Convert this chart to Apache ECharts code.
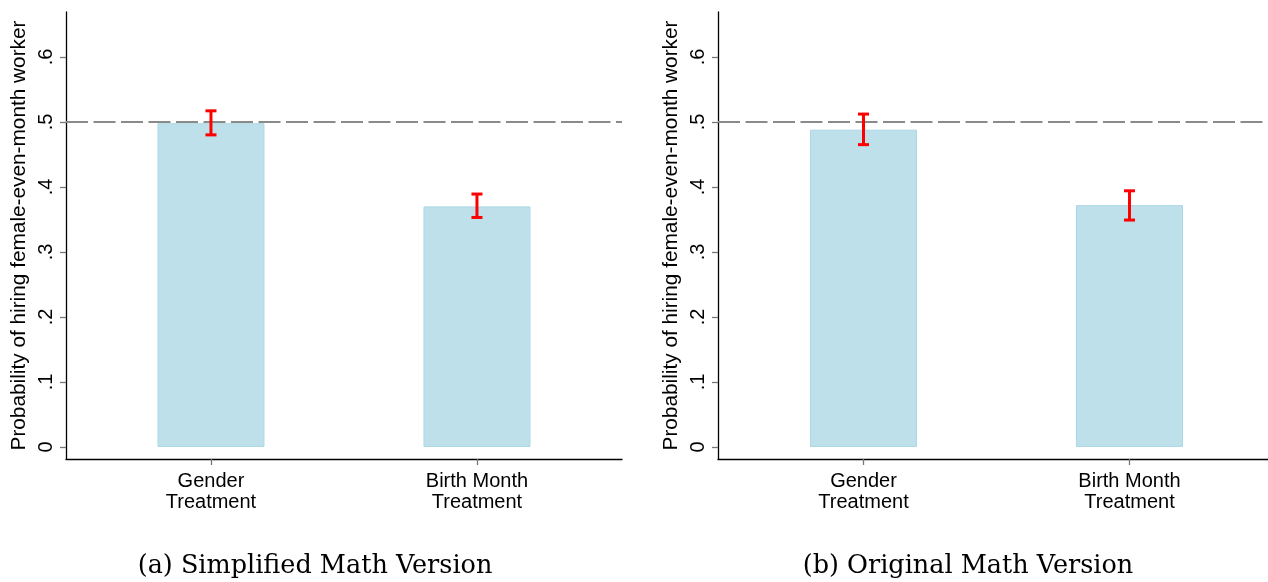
<!DOCTYPE html>
<html>
<head>
<meta charset="utf-8">
<script src="https://cdn.jsdelivr.net/npm/echarts@6/dist/echarts.min.js"></script>
<style>
html,body{margin:0;padding:0;background:#fff;}
#chart{width:1268px;height:582px;}
</style>
</head>
<body>
<div id="chart"></div>
<script>
// ---- data ----
const categories = ['Gender\nTreatment', 'Birth Month\nTreatment'];
const categoryPos = [1, 2];
const simplifiedMean = [0.498, 0.370];
const simplifiedLow = [0.480, 0.353];
const simplifiedHigh = [0.517, 0.389];
const originalMean = [0.488, 0.372];
const originalLow = [0.465, 0.349];
const originalHigh = [0.512, 0.394];
const yTicks = [0, 0.1, 0.2, 0.3, 0.4, 0.5, 0.6];
const referenceLine = 0.5;
const captions = ['(a) Simplified Math Version', '(b) Original Math Version'];
const yTitle = 'Probability of hiring female-even-month worker';

// ---- chart ----
const sans = '"Liberation Sans", Arial, Helvetica, sans-serif';
const chart = echarts.init(document.getElementById('chart'), null, {renderer: 'canvas'});

function makeX(gi, min, max) {
  return {
    type: 'value', gridIndex: gi, min: min, max: max,
    axisLine: {show: true, onZero: false, lineStyle: {color: '#000', width: 1.3}},
    axisTick: {show: true, customValues: categoryPos, length: 6, lineStyle: {color: '#777', width: 1.3}},
    axisLabel: {
      customValues: categoryPos, margin: 12, color: '#000', fontFamily: sans, fontSize: 20, lineHeight: 21,
      formatter: v => { const i = categoryPos.indexOf(Math.round(v)); return i >= 0 ? categories[i] : ''; }
    },
    splitLine: {show: false}
  };
}
function makeY(gi) {
  return {
    type: 'value', gridIndex: gi, min: -0.0185, max: 0.669,
    name: yTitle, nameLocation: 'middle', nameGap: 36, nameRotate: 90,
    nameTextStyle: {color: '#000', fontFamily: sans, fontSize: 20.8},
    axisLine: {show: true, onZero: false, lineStyle: {color: '#000', width: 1.3}},
    axisTick: {show: true, customValues: yTicks, length: 6, lineStyle: {color: '#777', width: 1.3}},
    axisLabel: {
      customValues: yTicks, rotate: 90, margin: 10, color: '#000', fontFamily: sans, fontSize: 20,
      formatter: v => Math.abs(v) < 1e-9 ? '0' : '.' + Math.round(v * 10)
    },
    splitLine: {show: false}
  };
}
function barSeries(gi, vals) {
  return {
    type: 'bar', xAxisIndex: gi, yAxisIndex: gi, barWidth: 107,
    data: categoryPos.map((p, i) => [p, vals[i]]),
    itemStyle: {color: '#bee0ea', borderColor: '#acd7e5', borderWidth: 1},
    silent: true, z: 2,
    markLine: {
      silent: true, symbol: 'none', label: {show: false}, z: 3,
      lineStyle: {color: '#8a8a8a', width: 2, type: [22, 5.5]},
      data: [{yAxis: referenceLine}]
    }
  };
}
function errSeries(gi, lo, hi) {
  return {
    type: 'custom', xAxisIndex: gi, yAxisIndex: gi, z: 5, silent: true,
    data: categoryPos.map((p, i) => [p, lo[i], hi[i]]),
    renderItem: (params, api) => {
      const x = api.value(0);
      const a = api.coord([x, api.value(1)]);
      const b = api.coord([x, api.value(2)]);
      const hw = 5.5;
      const st = {stroke: '#ff0000', lineWidth: 3};
      return {type: 'group', children: [
        {type: 'line', shape: {x1: a[0], y1: a[1], x2: b[0], y2: b[1]}, style: st},
        {type: 'line', shape: {x1: a[0] - hw, y1: a[1], x2: a[0] + hw, y2: a[1]}, style: st},
        {type: 'line', shape: {x1: b[0] - hw, y1: b[1], x2: b[0] + hw, y2: b[1]}, style: st}
      ]};
    }
  };
}

chart.setOption({
  animation: false,
  backgroundColor: '#fff',
  grid: [
    {left: 66, top: 12, width: 556, height: 447},
    {left: 718, top: 12, width: 550, height: 447}
  ],
  xAxis: [makeX(0, 0.455, 0.455 + 556 / 266), makeX(1, 0.453, 0.453 + 550 / 266)],
  yAxis: [makeY(0), makeY(1)],
  series: [
    barSeries(0, simplifiedMean), errSeries(0, simplifiedLow, simplifiedHigh),
    barSeries(1, originalMean), errSeries(1, originalLow, originalHigh)
  ],
  graphic: [
    {type: 'text', x: 315, y: 566, style: {text: captions[0], fill: '#000', font: '25.5px "DejaVu Serif", serif', textAlign: 'center', textVerticalAlign: 'middle'}},
    {type: 'text', x: 968, y: 566, style: {text: captions[1], fill: '#000', font: '25.5px "DejaVu Serif", serif', textAlign: 'center', textVerticalAlign: 'middle'}}
  ]
});
</script>
</body>
</html>
